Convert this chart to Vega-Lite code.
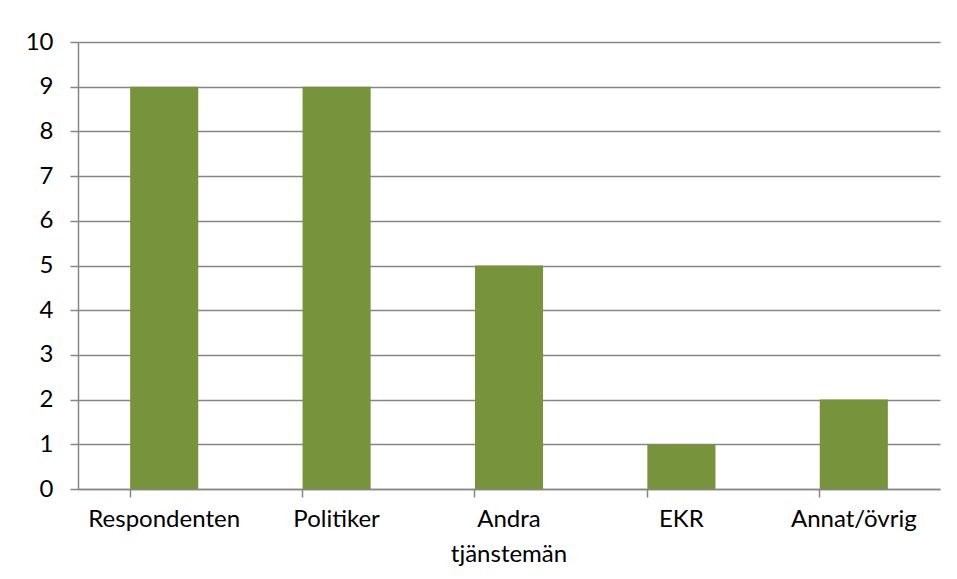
{
  "$schema": "https://vega.github.io/schema/vega-lite/v6.json",
  "width": 862,
  "height": 447,
  "autosize": {"type": "none"},
  "padding": {"left": 78, "top": 42, "right": 17, "bottom": 90},
  "background": "white",
  "data": {
    "values": [
      {"kategori": "Respondenten", "antal": 9},
      {"kategori": "Politiker", "antal": 9},
      {"kategori": "Andra tjänstemän", "antal": 5},
      {"kategori": "EKR", "antal": 1},
      {"kategori": "Annat/övrig", "antal": 2}
    ]
  },
  "mark": {"type": "bar", "color": "#77933C"},
  "encoding": {
    "x": {
      "field": "kategori",
      "type": "nominal",
      "sort": null,
      "scale": {"paddingInner": 0.605, "paddingOuter": 0.3025},
      "axis": {
        "title": null,
        "labelAngle": 0,
        "bandPosition": 0,
        "ticks": true,
        "tickSize": 8,
        "tickColor": "#868686",
        "tickWidth": 1.5,
        "domain": true,
        "domainColor": "#868686",
        "domainWidth": 1.5,
        "grid": false,
        "labelPadding": 10,
        "labelFont": "Lato",
        "labelFontSize": 24,
        "labelColor": "#000000",
        "labelLineHeight": 35,
        "labelBaseline": "top",
        "labelExpr": "datum.label == 'Andra tjänstemän' ? ['Andra', 'tjänstemän'] : datum.label"
      }
    },
    "y": {
      "field": "antal",
      "type": "quantitative",
      "scale": {"domain": [0, 10], "nice": false},
      "axis": {
        "title": null,
        "values": [0, 1, 2, 3, 4, 5, 6, 7, 8, 9, 10],
        "tickSize": 8,
        "tickColor": "#868686",
        "tickWidth": 1.5,
        "domainColor": "#868686",
        "domainWidth": 1.5,
        "grid": true,
        "gridColor": "#868686",
        "gridWidth": 1.5,
        "labelPadding": 17,
        "labelFont": "Lato",
        "labelFontSize": 24,
        "labelColor": "#000000"
      }
    }
  },
  "config": {"view": {"stroke": null}}
}
